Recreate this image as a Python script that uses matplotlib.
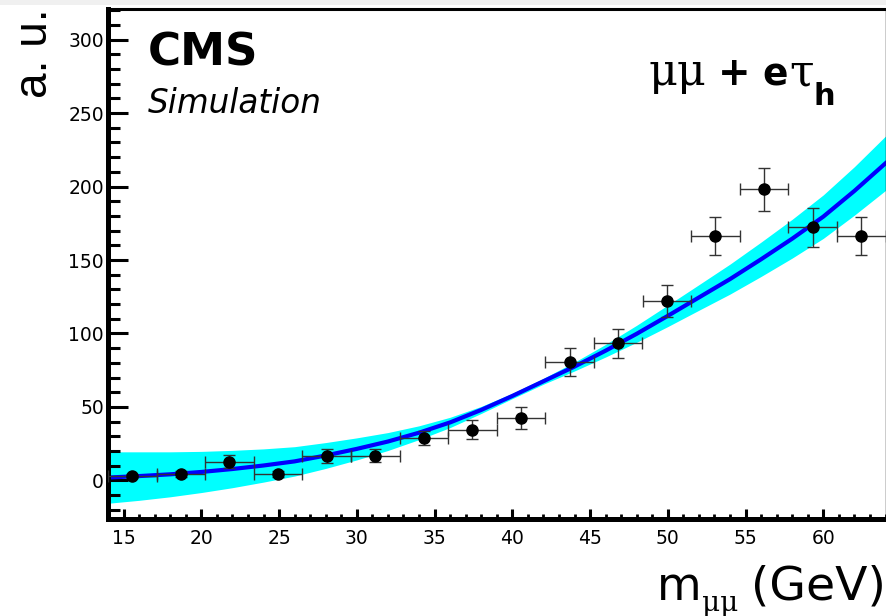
import numpy as np
import matplotlib
matplotlib.use("Agg")
import matplotlib.pyplot as plt
from matplotlib.patches import Rectangle
from matplotlib.ticker import MultipleLocator

W, H = 886, 616

# Binned dimuon mass spectrum (a. u.)
mass_centers = [15.56, 18.69, 21.81, 24.94, 28.06, 31.19, 34.31, 37.44,
                40.56, 43.69, 46.81, 49.94, 53.06, 56.19, 59.31, 62.44]
bin_half_width = 1.5625
counts = [3.0, 4.3, 12.8, 4.4, 16.7, 16.8, 29.1, 34.4,
          42.3, 80.4, 93.3, 122.3, 166.1, 198.1, 172.2, 166.3]
count_errors = [1.5, 2.0, 4.5, 2.0, 5.0, 4.5, 4.7, 6.5,
                7.5, 9.5, 10.0, 11.0, 13.0, 14.5, 13.5, 13.0]

# Fitted shape and its uncertainty band
fit_mass = [14, 16, 18, 20, 22, 24, 26, 28, 30, 32, 34, 36, 38,
            40, 42, 44, 46, 48, 50, 52, 54, 56, 58, 60, 62, 64]
fit_value = [2.0, 3.0, 4.2, 5.8, 7.8, 10.2, 13.0, 17.0, 21.5, 26.5, 32.5, 39.5, 48.0,
             57.5, 67.5, 77.5, 88.3, 99.8, 112.0, 124.5, 137.0, 150.5, 164.5, 179.5, 197.0, 215.8]
fit_error = [17.5, 16.5, 15.3, 14.0, 12.7, 11.3, 10.0, 8.8, 7.5, 6.1, 4.7, 3.5, 2.4,
             1.8, 2.0, 3.0, 4.3, 5.8, 7.3, 8.7, 10.2, 11.7, 13.2, 14.8, 16.5, 18.5]


def fx(x):
    return x / W


def fy(y):
    return 1 - y / H


fig = plt.figure(figsize=(W / 100, H / 100), dpi=100)
fig.patches.append(Rectangle((0, fy(5)), 1, 5 / H, transform=fig.transFigure,
                             facecolor="#f0f0f0", edgecolor="none", zorder=0))

ax = fig.add_axes([fx(108), fy(519), (885.5 - 108) / W, (519 - 8.5) / H])
ax.set_xlim(14, 64)
ax.set_ylim(-26.2, 321.1)

fm = np.array(fit_mass)
fv = np.array(fit_value)
fe = np.array(fit_error)
ax.fill_between(fm, fv - fe, fv + fe, color="#00ffff", lw=0, zorder=1)
ax.plot(fm, fv, color="#0000ff", lw=3.0, zorder=2)

ax.errorbar(mass_centers, counts, xerr=bin_half_width, yerr=count_errors,
            fmt="o", color="black", ms=8, ecolor="#333333", elinewidth=1.0,
            capsize=4, capthick=1.0, zorder=3)

ax.xaxis.set_major_locator(MultipleLocator(5))
ax.xaxis.set_minor_locator(MultipleLocator(1))
ax.yaxis.set_major_locator(MultipleLocator(50))
ax.yaxis.set_minor_locator(MultipleLocator(10))

ax.tick_params(axis="both", which="both", direction="in", top=False, right=False,
               colors="black")
ax.tick_params(axis="x", which="major", length=7.2, width=2.2, pad=7, labelsize=13.5)
ax.tick_params(axis="x", which="minor", length=3.6, width=2.0)
ax.tick_params(axis="y", which="major", length=14.4, width=2.2, pad=3, labelsize=13.5)
ax.tick_params(axis="y", which="minor", length=8.6, width=2.2)
for lab in ax.get_xticklabels() + ax.get_yticklabels():
    lab.set_family("DejaVu Sans")

ax.spines["left"].set_linewidth(3.6)
ax.spines["bottom"].set_linewidth(3.6)
ax.spines["top"].set_linewidth(2.2)
ax.spines["right"].set_linewidth(1.0)

# Experiment label
fig.text(fx(148), fy(65), "CMS", family="DejaVu Sans", fontweight="bold",
         fontsize=32.5, ha="left", va="baseline")
fig.text(fx(148), fy(113), "Simulation", family="DejaVu Sans", style="italic",
         fontsize=23.5, ha="left", va="baseline")

# Channel label: μμ + eτ_h
fig.text(fx(649), fy(85), "μμ", family="DejaVu Serif", fontsize=32,
         ha="left", va="baseline")
fig.text(fx(718), fy(85), "+", family="DejaVu Sans", fontweight="bold", fontsize=28,
         ha="left", va="baseline")
fig.text(fx(762), fy(85), "e", family="DejaVu Sans", fontweight="bold", fontsize=27,
         ha="left", va="baseline")
fig.text(fx(789), fy(85), "τ", family="DejaVu Serif", fontsize=32,
         ha="left", va="baseline")
fig.text(fx(814), fy(105), "h", family="DejaVu Sans", fontweight="bold", fontsize=22,
         ha="left", va="baseline")

# Axis titles
fig.text(fx(657), fy(600), "m", family="DejaVu Sans", fontsize=33,
         ha="left", va="baseline")
fig.text(fx(702), fy(611), "μμ", family="DejaVu Serif", fontsize=20,
         ha="left", va="baseline")
fig.text(fx(751), fy(600), "(GeV)", family="DejaVu Sans", fontsize=34,
         ha="left", va="baseline")

fig.text(fx(47), fy(8), "a. u.", family="Liberation Sans", fontsize=33,
         rotation=90, rotation_mode="anchor", ha="right", va="baseline")

fig.savefig("out.png", dpi=100)
